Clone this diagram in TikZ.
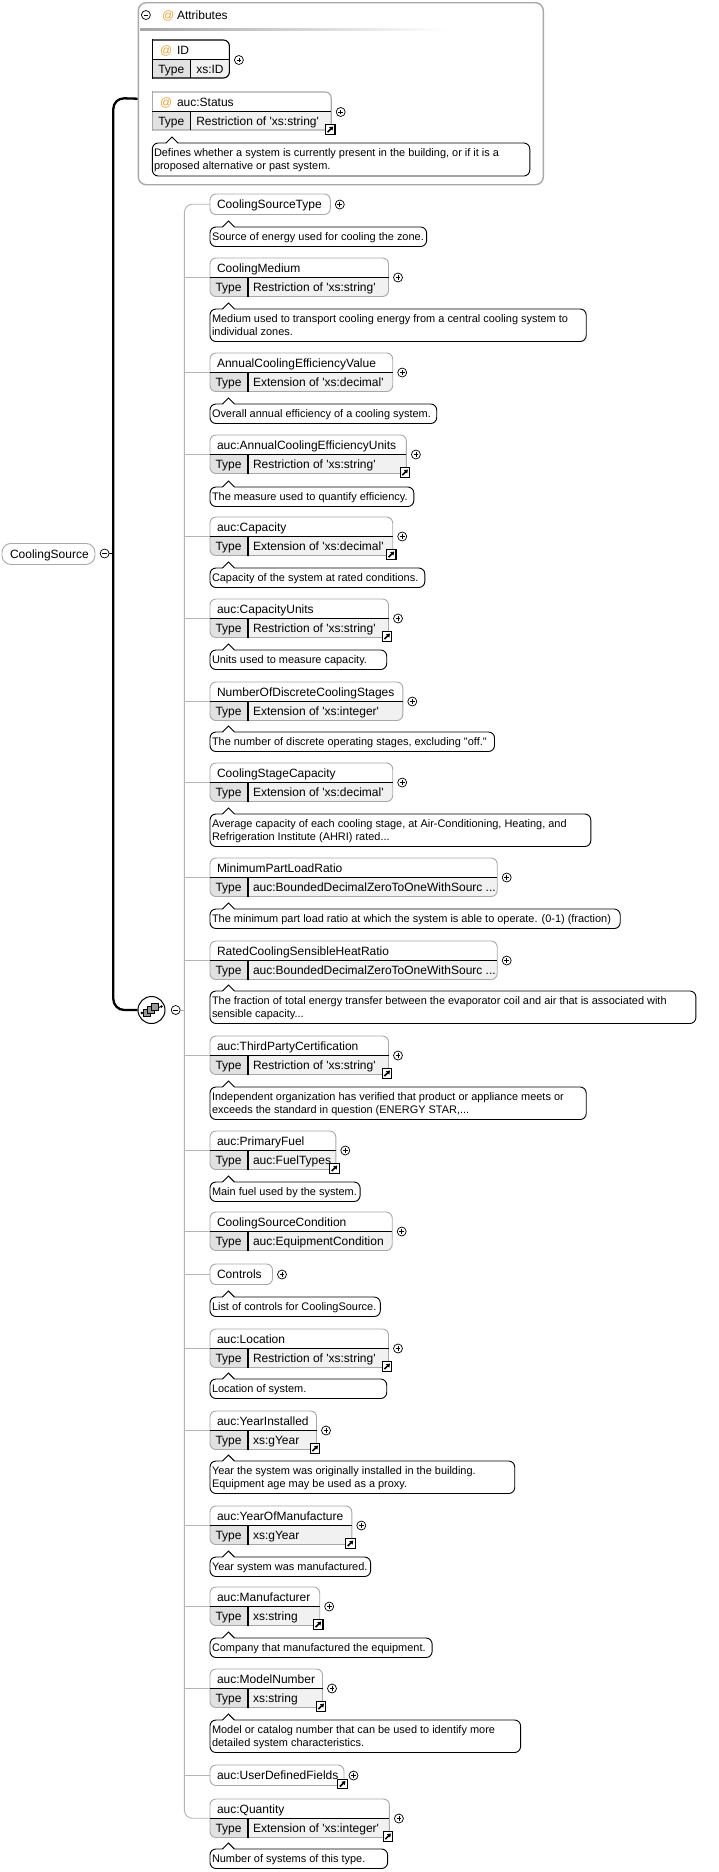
\documentclass[tikz,border=0pt]{standalone}
\usepackage{fontspec}
\newfontfamily\lfont{Liberation Sans}
\usetikzlibrary{arrows.meta}
\definecolor{boxgrey}{HTML}{A8A8A8}
\definecolor{typefill}{HTML}{E1E1E1}
\definecolor{valfill}{HTML}{F1F1F1}
\definecolor{brgrey}{HTML}{B4B4B4}
\definecolor{atorange}{HTML}{E9A23B}
\tikzset{
 txt/.style={inner sep=0pt, outer sep=0pt, font=\lfont\fontsize{10.95}{13}\selectfont, text=black},
 ntxt/.style={inner sep=0pt, outer sep=0pt, font=\lfont\fontsize{12}{13}\selectfont, text=black},
 pm/.style={circle, draw=black, line width=0.7pt, minimum size=9pt, inner sep=0pt, fill=white},
 plus/.style={pm, path picture={\draw[line width=0.7pt] ([xshift=-2.4pt]path picture bounding box.center) -- ([xshift=2.4pt]path picture bounding box.center) ([yshift=-2.4pt]path picture bounding box.center) -- ([yshift=2.4pt]path picture bounding box.center);}},
 minus/.style={pm, path picture={\draw[line width=0.7pt] ([xshift=-2.4pt]path picture bounding box.center) -- ([xshift=2.4pt]path picture bounding box.center);}},
 linkbox/.style={rectangle, draw=black, fill=white, line width=1.1pt, minimum size=9.5pt, inner sep=0pt, path picture={\draw[line width=1.6pt, -{Triangle[length=3.4pt,width=4.4pt]}] ([shift={(-2.6pt,-2.6pt)}]path picture bounding box.center) -- ([shift={(3pt,3pt)}]path picture bounding box.center);}},
 elbox/.style={draw=boxgrey, line width=0.9pt, rounded corners=6pt, inner sep=0pt, outer sep=0pt},
 dscbox/.style={draw=black, line width=0.9pt, fill=white, rounded corners=6pt, inner sep=0pt, outer sep=0pt},
 brline/.style={draw=brgrey, line width=0.9pt},
 thickln/.style={draw=black, line width=2.3pt},
}
% typed element: id, top, right, name, type, link, branch
\newcommand\elT[7]{%
 \begin{scope}
  \clip[rounded corners=6pt] (210,#2) rectangle (#3,#2+38.5);
  \fill[white] (210,#2) rectangle (#3,#2+19.5);
  \fill[valfill] (248,#2+19.5) rectangle (#3,#2+38.5);
  \fill[typefill] (210,#2+19.5) rectangle (248,#2+38.5);
 \end{scope}
 \node[elbox, anchor=north west, minimum width=#3-210, minimum height=38.5] (#1) at (210,#2) {};
 \draw[line width=1.1pt] (210,#2+19.5) -- (#3,#2+19.5) (248,#2+19.5) -- (248,#2+38.5);
 \node[ntxt, anchor=base west] (#1-name) at (217,#2+14) {#4};
 \node[ntxt, anchor=base west] (#1-type) at (215.5,#2+33.5) {Type};
 \node[ntxt, anchor=base west] (#1-val) at (253,#2+33.5) {#5};
 \node[plus] (#1-plus) at (#3+9.5,#2+19.5) {};
 \ifnum#6=1 \node[linkbox] (#1-link) at (#3-1.5,#2+37.5) {};\fi
 \ifnum#7=1 \draw[brline] (184.4,#2+19.25) -- (#1.west);\fi
}
% single element: id, top, right, name, link, branch
\newcommand\elS[6]{%
 \node[elbox, fill=white, anchor=north west, minimum width=#3-210, minimum height=20.5] (#1) at (210,#2) {};
 \node[ntxt, anchor=base west] (#1-name) at (217,#2+14.5) {#4};
 \node[plus] (#1-plus) at (#3+9.5,#2+10.5) {};
 \ifnum#5=1 \node[linkbox] (#1-link) at (#3-1.5,#2+19) {};\fi
 \ifnum#6=1 \draw[brline] (184.4,#2+10.25) -- (#1.west);\fi
}
\newcommand\ptr[2]{%
 \fill[white] (#1-6,#2+0.8) -- (#1,#2-6) -- (#1+6,#2+0.8) -- cycle;
 \draw[line width=0.9pt] (#1-6,#2) -- (#1,#2-6) -- (#1+6,#2);
}
% description one line: id, top, right, text
\newcommand\dscA[4]{%
 \node[dscbox, anchor=north west, minimum width=#3-210, minimum height=19.5] (#1) at (210,#2) {};
 \ptr{228.4}{#2}
 \node[txt, anchor=base west] (#1-t) at (212,#2+13.5) {#4};
}
% description two lines
\newcommand\dscB[5]{%
 \node[dscbox, anchor=north west, minimum width=#3-210, minimum height=32.5] (#1) at (210,#2) {};
 \ptr{228.4}{#2}
 \node[txt, anchor=base west] (#1-t1) at (212,#2+13.5) {#4};
 \node[txt, anchor=base west] (#1-t2) at (212,#2+26) {#5};
}
% attribute: id, top, right, name, value, border colour, link
\newcommand\attbox[7]{%
 \begin{scope}
  \clip (152.3,#2-1) rectangle (#3+2,#2+40);
  \clip[rounded corners=6pt] (140,#2) rectangle (#3,#2+38);
  \fill[white] (140,#2) rectangle (#3,#2+19.5);
  \fill[valfill] (190.4,#2+19.5) rectangle (#3,#2+38);
  \fill[typefill] (140,#2+19.5) rectangle (190.4,#2+38);
 \end{scope}
 \begin{scope}
  \clip (152.3,#2-2) rectangle (#3+2,#2+40);
  \draw[draw=#6, line width=1.1pt, rounded corners=6pt] (140,#2) rectangle (#3,#2+38);
 \end{scope}
 \draw[draw=#6, line width=1.1pt] (152.3,#2-0.55) -- (152.3,#2+38.55);
 \node[anchor=north west, inner sep=0pt, outer sep=0pt, minimum width=#3-152.3, minimum height=38] (#1) at (152.3,#2) {};
 \draw[line width=1.1pt] (152.3,#2+19.5) -- (#3,#2+19.5) (190.4,#2+19.5) -- (190.4,#2+38);
 \node[ntxt, text=atorange, anchor=base west] (#1-at) at (160,#2+14) {@};
 \node[ntxt, anchor=base west] (#1-name) at (177,#2+14) {#4};
 \node[ntxt, anchor=base west] (#1-type) at (158.3,#2+33) {Type};
 \node[ntxt, anchor=base west] (#1-val) at (196.3,#2+33) {#5};
 \node[plus] (#1-plus) at (#3+9.5,#2+20) {};
 \ifnum#7=1 \node[linkbox] (#1-link) at (#3-1,#2+37.5) {};\fi
}
\begin{document}
\begin{tikzpicture}[x=1pt,y=-1pt]
\useasboundingbox[fill=white] (0,0) rectangle (719,1872);

% ---------- Attributes group ----------
\node[draw=boxgrey, line width=1.4pt, rounded corners=8pt, fill=white, minimum width=405, minimum height=182, anchor=north west, inner sep=0pt] (attr) at (137.6,2) {};
\node[minus] (attrm) at (145.9,15) {};
\node[ntxt, text=atorange, anchor=base west] (attrat) at (162,19.5) {@};
\node[ntxt, anchor=base west] (attrt) at (177,19.5) {Attributes};
\shade[left color=black!35, right color=white] (140,28.2) rectangle (448,30);

\attbox{idb}{40}{229.4}{ID}{xs:ID}{black}{0}
\attbox{stb}{92}{331.2}{auc:Status}{Restriction of 'xs:string'}{boxgrey}{1}
\node[dscbox, anchor=north west, minimum width=377.5, minimum height=33] (std) at (152.3,143) {};
\ptr{172}{143}
\node[txt, anchor=base west] (std-t1) at (154,156.5) {Defines whether a system is currently present in the building, or if it is a};
\node[txt, anchor=base west] (std-t2) at (154,169) {proposed alternative or past system.};

% ---------- root ----------
\node[draw=boxgrey, line width=0.9pt, rounded corners=9pt, fill=white, minimum width=93, minimum height=21, anchor=north west, inner sep=0pt] (cs) at (1.5,543) {};
\node[ntxt, anchor=base west] (cs-name) at (10,558) {CoolingSource};
\node[minus] (csm) at (104.6,553.5) {};
\coordinate (j1) at (113.3,553.5);
\draw[line width=0.9pt] (csm.east) -- (j1);

% ---------- sequence ----------
\node[circle, draw=black, line width=1pt, minimum size=27pt, fill=white, inner sep=0pt] (seq) at (151.5,1010) {};
\draw[line width=0.9pt] (141.8,1013) -- (161.5,1006.5);
\fill (141.8,1013) circle (1.4);
\fill (161.5,1006.5) circle (1.4);
\filldraw[fill=black!40, draw=black, line width=0.6pt] (143.5,1009.5) rectangle +(7,7);
\filldraw[fill=black!40, draw=black, line width=0.6pt] (147.5,1006.5) rectangle +(7,7);
\filldraw[fill=black!40, draw=black, line width=0.6pt] (151.5,1003.5) rectangle +(7,7);
\node[minus] (seqm) at (175.7,1010) {};

\draw[thickln, rounded corners=11pt] ([yshift=-5pt]attr.west) -- (113.3,98) -- (113.3,1010) -- (seq.west);
\draw[brline] (seqm.east) -- (184.4,1010);

% ---------- children ----------
\elS{cst}{194}{330.3}{CoolingSourceType}{0}{0}
\dscA{cstd}{227}{426.6}{Source of energy used for cooling the zone.}

\elT{cm}{258}{388.5}{CoolingMedium}{Restriction of 'xs:string'}{0}{1}
\dscB{cmd}{309}{586.2}{Medium used to transport cooling energy from a central cooling system to}{individual zones.}

\elT{acev}{353}{392.7}{AnnualCoolingEfficiencyValue}{Extension of 'xs:decimal'}{0}{1}
\dscA{acevd}{404}{436.7}{Overall annual efficiency of a cooling system.}

\elT{aceu}{435}{406.4}{auc:AnnualCoolingEfficiencyUnits}{Restriction of 'xs:string'}{1}{1}
\dscA{aceud}{487}{413.8}{The measure used to quantify efficiency.}

\elT{cap}{517}{392.7}{auc:Capacity}{Extension of 'xs:decimal'}{1}{1}
\dscA{capd}{568}{424.8}{Capacity of the system at rated conditions.}

\elT{capu}{599}{388.5}{auc:CapacityUnits}{Restriction of 'xs:string'}{1}{1}
\dscA{capud}{650}{386.7}{Units used to measure capacity.}

\elT{nodcs}{682}{402.8}{NumberOfDiscreteCoolingStages}{Extension of 'xs:integer'}{0}{1}
\dscA{nodcsd}{732}{494.5}{The number of discrete operating stages, excluding "off."}

\elT{csc}{763}{392.7}{CoolingStageCapacity}{Extension of 'xs:decimal'}{0}{1}
\dscB{cscd}{814}{590.8}{Average capacity of each cooling stage, at Air-Conditioning, Heating, and}{Refrigeration Institute (AHRI) rated...}

\elT{mplr}{858}{497.2}{MinimumPartLoadRatio}{auc:BoundedDecimalZeroToOneWithSourc ...}{0}{1}
\dscA{mplrd}{909}{620.2}{The minimum part load ratio at which the system is able to operate. (0-1) (fraction)}

\elT{rcshr}{941}{497.2}{RatedCoolingSensibleHeatRatio}{auc:BoundedDecimalZeroToOneWithSourc ...}{0}{1}
\dscB{rcshrd}{991}{695.9}{The fraction of total energy transfer between the evaporator coil and air that is associated with}{sensible capacity...}

\elT{tpc}{1036}{388.5}{auc:ThirdPartyCertification}{Restriction of 'xs:string'}{1}{1}
\dscB{tpcd}{1087}{586.2}{Independent organization has verified that product or appliance meets or}{exceeds the standard in question (ENERGY STAR,...}

\elT{pf}{1131}{335.8}{auc:PrimaryFuel}{auc:FuelTypes}{1}{1}
\dscA{pfd}{1182}{360.1}{Main fuel used by the system.}

\elT{cscond}{1212}{392.2}{CoolingSourceCondition}{auc:EquipmentCondition}{0}{1}

\elS{ctrl}{1264}{272.5}{Controls}{0}{1}
\dscA{ctrld}{1297}{380.3}{List of controls for CoolingSource.}

\elT{loc}{1329}{388.5}{auc:Location}{Restriction of 'xs:string'}{1}{1}
\dscA{locd}{1379}{386.7}{Location of system.}

\elT{yi}{1411}{316.5}{auc:YearInstalled}{xs:gYear}{1}{1}
\dscB{yid}{1461}{514.7}{Year the system was originally installed in the building.}{Equipment age may be used as a proxy.}

\elT{yom}{1506}{351.8}{auc:YearOfManufacture}{xs:gYear}{1}{1}
\dscA{yomd}{1557}{370.6}{Year system was manufactured.}

\elT{man}{1587}{319.7}{auc:Manufacturer}{xs:string}{1}{1}
\dscA{mand}{1638}{432.1}{Company that manufactured the equipment.}

\elT{mn}{1669}{322.5}{auc:ModelNumber}{xs:string}{1}{1}
\dscB{mnd}{1720}{520.6}{Model or catalog number that can be used to identify more}{detailed system characteristics.}

\elS{udf}{1765}{344}{auc:UserDefinedFields}{1}{1}

\elT{qty}{1799}{389.4}{auc:Quantity}{Extension of 'xs:integer'}{1}{0}
\dscA{qtyd}{1849}{387.6}{Number of systems of this type.}

% sequence bracket
\draw[brline, rounded corners=8pt] (cst.west) -- (184.4,204.25) -- (184.4,1818.25) -- (qty.west);

\end{tikzpicture}
\end{document}
